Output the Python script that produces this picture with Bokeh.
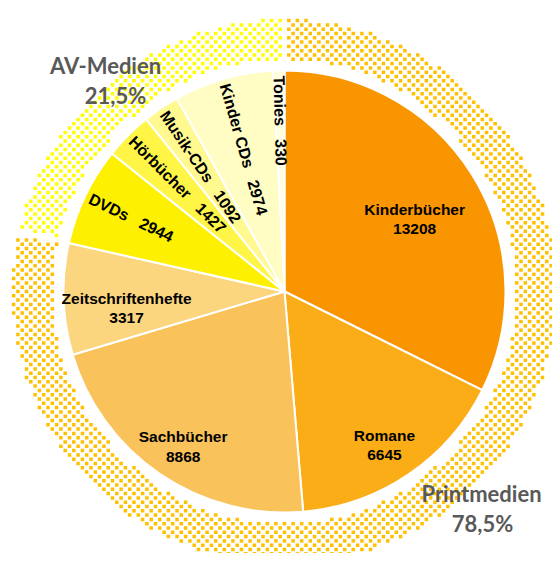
import math
import numpy as np
from bokeh.plotting import figure
from bokeh.models import Range1d, ColumnDataSource
from bokeh.embed import file_html
from bokeh.resources import INLINE
from bokeh.core.properties import value

# ---- data ----
categories = ["Kinderbücher", "Romane", "Sachbücher", "Zeitschriftenhefte",
              "DVDs", "Hörbücher", "Musik-CDs", "Kinder CDs", "Tonies"]
counts = [13208, 6645, 8868, 3317, 2944, 1427, 1092, 2974, 330]
groups = ["Printmedien", "AV-Medien"]
group_sizes = [4, 5]  # number of categories in each group

# ---- styles ----
colors = ["#F89500", "#FBAD18", "#F9C25A", "#FCD67F",
          "#FDF000", "#FFF546", "#FFF98F", "#FFFDC4", "#FFFEDD"]
group_hatch = ["#FFC000", "#FFFF00"]
label_r = [153, 178, 180, 158]      # radius for horizontal labels
label_dy = [-8, -6, -6, -11]
radial_start = 216                    # radius where radial labels start
gap = "\u00a0\u00a0\u00a0"

W, H = 552, 553
cx, cy = 284, 270
R = 221
R_in, R_out = 230, 274
cell = 4.3   # confetti pattern cell size
sq = 3.5     # confetti square size

total = sum(counts)
starts, ends, mids = [], [], []
cum = 0
for c in counts:
    a0 = math.pi / 2 - 2 * math.pi * cum / total
    cum += c
    a1 = math.pi / 2 - 2 * math.pi * cum / total
    starts.append(a0); ends.append(a1); mids.append((a0 + a1) / 2)

p = figure(width=W, height=H, x_range=Range1d(0, W), y_range=Range1d(561 - H, 561),
           output_backend="svg", toolbar_location=None, min_border=0,
           x_axis_type=None, y_axis_type=None)
p.grid.visible = False
p.outline_line_color = None
p.background_fill_color = "white"
p.border_fill_color = "white"

# ---- outer patterned ring (group shares) ----
gsum = []
idx = 0
for n in group_sizes:
    gsum.append(sum(counts[idx:idx + n]))
    idx += n
gfrac_edges = np.cumsum([0] + gsum) / total   # clockwise from top, fractions

# checkerboard "confetti" texture filling each ring segment
n_cells = int(2 * R_out / cell) + 2
ii, jj = np.meshgrid(np.arange(-n_cells // 2, n_cells // 2 + 1),
                     np.arange(-n_cells // 2, n_cells // 2 + 1))
mask = (ii + jj) % 2 == 0
px = (ii[mask] * cell).astype(float)
py = (jj[mask] * cell).astype(float)
rr = np.hypot(px, py)
inside = (rr > R_in + sq / 2) & (rr < R_out - sq / 2)
px, py, rr = px[inside], py[inside], rr[inside]
frac = (np.arctan2(px, py) / (2 * np.pi)) % 1.0   # clockwise from top


def border_dist(f_edge):
    d = (frac - f_edge + 0.5) % 1.0 - 0.5
    return rr * 2 * np.pi * np.abs(d)


tx, ty, tc = [], [], []
for gi in range(len(gsum)):
    f0, f1 = gfrac_edges[gi], gfrac_edges[gi + 1]
    sel = (frac >= f0) & (frac < f1)
    sel &= (border_dist(f0) > 3.5) & (border_dist(f1) > 3.5)
    tx.extend((cx + px[sel]).tolist())
    ty.extend((cy + py[sel]).tolist())
    tc.extend([group_hatch[gi]] * int(sel.sum()))
p.rect(x=tx, y=ty, width=sq, height=sq, fill_color=tc, line_color=None)

# ---- pie ----
src = ColumnDataSource(dict(start=starts, end=ends, color=colors))
p.wedge(x=cx, y=cy, radius=R, start_angle="start", end_angle="end",
        direction="clock", fill_color="color", line_color="white",
        line_width=2, source=src)

# horizontal labels (print media)
n_print = group_sizes[0]
hx, hy, ht = [], [], []
for i in range(n_print):
    hx.append(cx + label_r[i] * math.cos(mids[i]))
    hy.append(cy + label_r[i] * math.sin(mids[i]) + label_dy[i])
    ht.append(f"{categories[i]}\n{counts[i]}")
p.text(x=hx, y=hy, text=ht, text_font=value("Liberation Sans"),
       text_font_style="bold", text_font_size="15.5px", text_align="center",
       text_baseline="middle", text_color="black", text_line_height=1.15)

# radial labels (AV media)
rx, ry, rt, ra = [], [], [], []
for i in range(n_print, len(counts)):
    rx.append(cx + radial_start * math.cos(mids[i]))
    ry.append(cy + radial_start * math.sin(mids[i]))
    rt.append(f"{categories[i]}{gap}{counts[i]}")
    ra.append(mids[i] - math.pi)
p.text(x=rx, y=ry, text=rt, angle=ra, text_font=value("Liberation Sans"),
       text_font_style="bold", text_font_size="16px", text_align="left",
       text_baseline="middle", text_color="black")

# group labels
g_off = [(197, -217), (-174, 211)]
for gi, g in enumerate(groups):
    pct = f"{100 * gsum[gi] / total:.1f}".replace(".", ",") + "%"
    dx, dy = g_off[gi]
    p.text(x=[cx + dx + (0 if gi == 0 else -5)], y=[cy + dy + 15], text=[g],
           text_font=value("Lato"), text_font_style="bold", text_font_size="22px",
           text_align="center", text_baseline="middle", text_color="#595959")
    p.text(x=[cx + dx + (1 if gi == 0 else 5)], y=[cy + dy - 15], text=[pct],
           text_font=value("Lato"), text_font_style="bold", text_font_size="22px",
           text_align="center", text_baseline="middle", text_color="#595959")

open("out.html", "w").write(file_html(p, INLINE))
